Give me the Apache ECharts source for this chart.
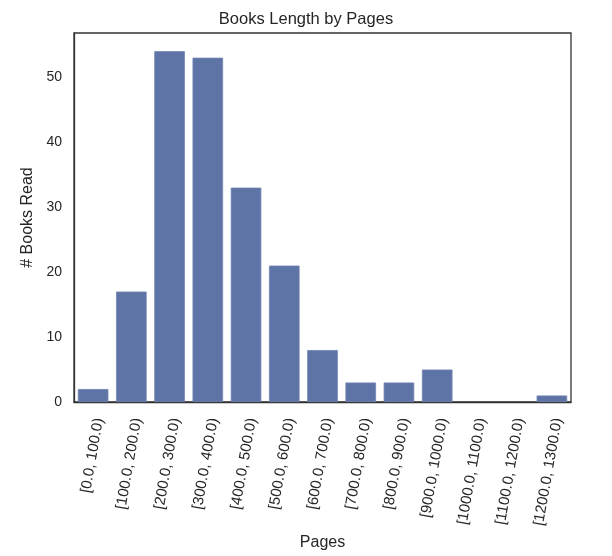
<!DOCTYPE html>
<html>
<head>
<meta charset="UTF-8" />
<script src="https://cdn.jsdelivr.net/npm/echarts@6/dist/echarts.min.js"></script>
<title>Books Length by Pages</title>
<style>
  html, body { margin: 0; padding: 0; background: #fff; }
  #main { width: 612px; height: 556px; }
</style>
</head>
<body>
<div id="main"></div>
<script>
  // page bins and how many books fell in each
  var bins = ['[0.0, 100.0)', '[100.0, 200.0)', '[200.0, 300.0)', '[300.0, 400.0)',
    '[400.0, 500.0)', '[500.0, 600.0)', '[600.0, 700.0)', '[700.0, 800.0)',
    '[800.0, 900.0)', '[900.0, 1000.0)', '[1000.0, 1100.0)', '[1100.0, 1200.0)',
    '[1200.0, 1300.0)']
  var booksRead = [2, 17, 54, 53, 33, 21, 8, 3, 3, 5, 0, 0, 1]
  var yTicks = [0, 10, 20, 30, 40, 50]

  var font = 'Liberation Sans, Arial, sans-serif'
  var ink = '#262626'

  var myChart = echarts.init(document.getElementById('main'))
  var option = {
    animation: false,
    title: {
      text: 'Books Length by Pages',
      left: 'center',
      top: 6,
      textStyle: { fontFamily: font, fontSize: 16.5, fontWeight: 'normal', color: ink }
    },
    grid: {
      left: 74, right: 41, top: 33, bottom: 154,
      show: true, borderColor: '#333', borderWidth: 1.3
    },
    xAxis: {
      type: 'category',
      data: bins,
      name: 'Pages',
      nameLocation: 'middle',
      nameGap: 130,
      nameTextStyle: { fontFamily: font, fontSize: 16, color: ink },
      axisLine: { lineStyle: { color: '#333', width: 1.3 } },
      axisTick: { show: false },
      axisLabel: {
        rotate: 80, interval: 0, margin: 15,
        // matplotlib centres the rotated text under the tick
        verticalAlign: 'top', lineHeight: 12,
        fontFamily: font, fontSize: 15, color: ink
      }
    },
    yAxis: {
      type: 'value',
      min: 0,
      max: 56.8,
      interval: 10,
      name: '# Books Read',
      nameLocation: 'middle',
      nameGap: 34,
      nameTextStyle: { fontFamily: font, fontSize: 16, color: ink },
      axisLine: { show: true, lineStyle: { color: '#333', width: 1.3 } },
      axisTick: { show: false },
      splitLine: { show: false },
      axisLabel: {
        margin: 12, fontFamily: font, fontSize: 14, color: ink,
        formatter: function (v) { return yTicks.indexOf(v) >= 0 ? String(v) : '' }
      }
    },
    series: [{
      type: 'bar',
      // empty bins get no outline so nothing shows on the baseline
      data: booksRead.map(function (v) {
        return v === 0 ? { value: v, itemStyle: { borderWidth: 0 } } : v
      }),
      barCategoryGap: '20%',
      itemStyle: { color: '#5f74a6', borderColor: '#7184b3', borderWidth: 0.8 }
    }]
  }
  myChart.setOption(option)
</script>
</body>
</html>
